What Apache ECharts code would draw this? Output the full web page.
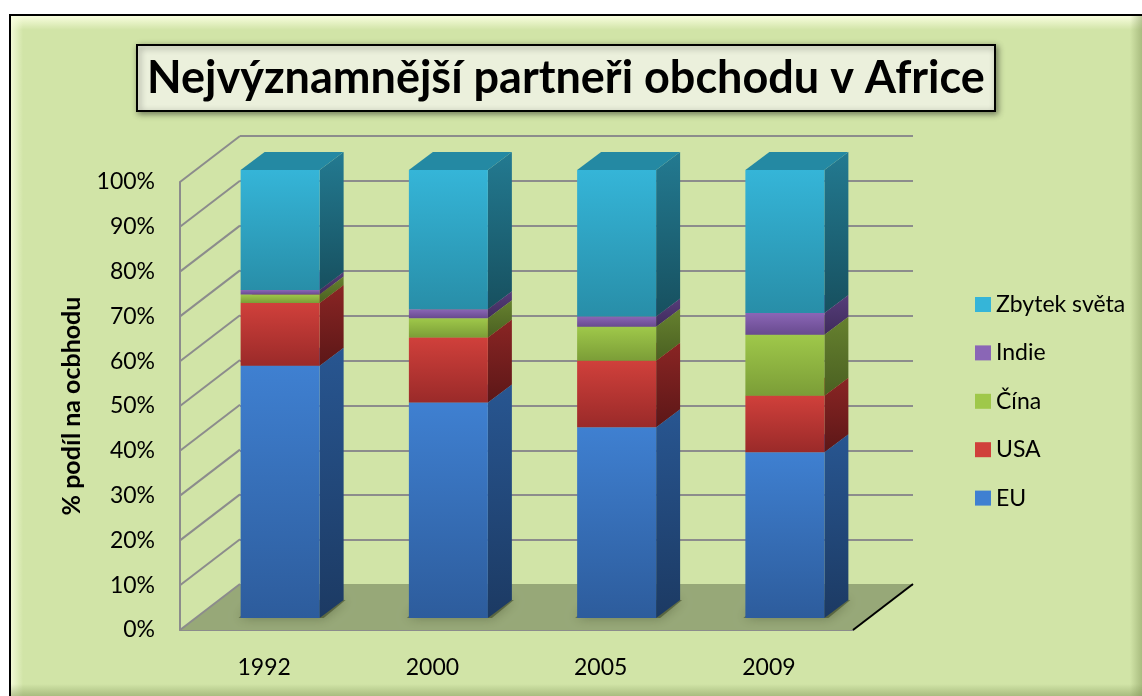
<!DOCTYPE html>
<html>
<head>
<meta charset="utf-8">
<title>Nejvýznamnější partneři obchodu v Africe</title>
<script src="https://cdn.jsdelivr.net/npm/echarts@6/dist/echarts.min.js"></script>
<style>
  html, body { margin: 0; padding: 0; background: #fff; }
  #chart { width: 1142px; height: 696px; }
</style>
</head>
<body>
<div id="chart"></div>
<script>
// data (% of Africa's trade)
const years = ['1992', '2000', '2005', '2009'];
const eu = [56.3, 48.1, 42.6, 37.0];
const usa = [14.0, 14.5, 14.8, 12.6];
const cina = [1.9, 4.3, 7.6, 13.6];
const indie = [1.0, 2.0, 2.3, 4.9];
const zbytek = [26.8, 31.1, 32.7, 31.9];
const yTicks = [0, 10, 20, 30, 40, 50, 60, 70, 80, 90, 100];
const legendOrder = ['Zbytek světa', 'Indie', 'Čína', 'USA', 'EU'];

const FONT = 'Lato, "Open Sans", sans-serif';
const WALL_DX = 60, WALL_DY = -46;   // depth of the floor / side wall
const BAR_FX = 16, BAR_FY = -12;     // front face of bars sits a bit behind the front plane
const BAR_DX = 24, BAR_DY = -18;     // depth of the bars
const BAR_W = 79;

const segs = [
  { name: 'EU', data: eu, front: ['#3f80d1', '#2d5c9c'], side: ['#285691', '#1c3a63'], top: '#3570b8' },
  { name: 'USA', data: usa, front: ['#d0403b', '#9a2a29'], side: ['#8a2524', '#5c1717'], top: '#b33330' },
  { name: 'Čína', data: cina, front: ['#9fc84a', '#7b9d37'], side: ['#66812f', '#4a6021'], top: '#89ad3f' },
  { name: 'Indie', data: indie, front: ['#8a66b6', '#684a8e'], side: ['#563d7a', '#3f2b5c'], top: '#765699' },
  { name: 'Zbytek světa', data: zbytek, front: ['#35b5d8', '#288ea8'], side: ['#237a91', '#17505f'], top: '#2489a3' }
];

function grad(c) {
  return new echarts.graphic.LinearGradient(0, 0, 0, 1, [
    { offset: 0, color: c[0] }, { offset: 1, color: c[1] }
  ]);
}

function barRender(seg, isBottom) {
  return function (params, api) {
    const i = api.value(0);
    const p0 = api.coord([i, api.value(1)]);
    const p1 = api.coord([i, api.value(2)]);
    const xl = p0[0] + BAR_FX - BAR_W / 2, xr = xl + BAR_W;
    const yb = p0[1] + BAR_FY, yt = p1[1] + BAR_FY;
    const children = [];
    if (isBottom) {
      // soft shadow on the floor, mostly hidden behind the bar
      children.push({
        type: 'polygon',
        shape: { points: [[xl - 2, yb], [xr + 4, yb], [xr + BAR_DX + 2, yb + BAR_DY], [xl + BAR_DX - 6, yb + BAR_DY]] },
        style: { fill: 'rgba(50,60,30,0.5)', shadowBlur: 12, shadowColor: 'rgba(50,60,30,0.8)' }
      });
    }
    children.push({
      type: 'polygon',
      shape: { points: [[xr, yb], [xr + BAR_DX, yb + BAR_DY], [xr + BAR_DX, yt + BAR_DY], [xr, yt]] },
      style: { fill: grad(seg.side) }
    });
    children.push({
      type: 'polygon',
      shape: { points: [[xl, yt], [xr, yt], [xr + BAR_DX, yt + BAR_DY], [xl + BAR_DX, yt + BAR_DY]] },
      style: { fill: seg.top }
    });
    children.push({
      type: 'rect',
      shape: { x: xl, y: yt, width: BAR_W, height: yb - yt },
      style: { fill: grad(seg.front) }
    });
    return { type: 'group', children: children };
  };
}

// stack the segments
const base = years.map(() => 0);
const barSeries = segs.map((seg, k) => {
  const rows = seg.data.map((v, i) => {
    const row = [i, base[i], base[i] + v];
    base[i] += v;
    return row;
  });
  return {
    type: 'custom',
    name: seg.name,
    xAxisIndex: 0,
    yAxisIndex: 0,
    z: 5 + k,
    itemStyle: { color: seg.front[0] },
    encode: { x: 0, y: [1, 2] },
    data: rows,
    renderItem: barRender(seg, k === 0)
  };
});

const floorSeries = {
  type: 'custom',
  xAxisIndex: 0,
  yAxisIndex: 0,
  z: 1,
  silent: true,
  data: [[0, 0]],
  renderItem: function (params, api) {
    const band = api.size([1, 0])[0];
    const a = api.coord([0, 0]);
    const b = api.coord([years.length - 1, 0]);
    const xL = a[0] - band / 2, xR = b[0] + band / 2, y0 = a[1];
    return {
      type: 'group',
      children: [
        {
          type: 'polygon',
          shape: { points: [[xL, y0], [xR, y0], [xR + WALL_DX, y0 + WALL_DY], [xL + WALL_DX, y0 + WALL_DY]] },
          style: { fill: '#97a878' }
        },
        {
          type: 'line',
          shape: { x1: xR, y1: y0, x2: xR + WALL_DX, y2: y0 + WALL_DY },
          style: { stroke: '#000', lineWidth: 2 }
        }
      ]
    };
  }
};

const wallSeries = {
  type: 'custom',
  xAxisIndex: 0,
  yAxisIndex: 0,
  z: 2,
  silent: true,
  data: yTicks.map(v => [0, v]),
  renderItem: function (params, api) {
    const band = api.size([1, 0])[0];
    const p = api.coord([0, api.value(1)]);
    const xL = p[0] - band / 2;
    return {
      type: 'line',
      shape: { x1: xL, y1: p[1], x2: xL + WALL_DX, y2: p[1] + WALL_DY },
      style: { stroke: '#8c8c8c', lineWidth: 2 }
    };
  }
};

const chart = echarts.init(document.getElementById('chart'));
chart.setOption({
  animation: false,
  backgroundColor: '#fff',
  graphic: [
    {
      type: 'rect', z: -10,
      shape: { x: 10, y: 15, width: 1140, height: 690 },
      style: { fill: '#d1e4a7', stroke: '#000', lineWidth: 2 }
    },
    {
      type: 'rect', z: -9,
      shape: { x: 11, y: 16, width: 1131, height: 14 },
      style: {
        fill: new echarts.graphic.LinearGradient(0, 0, 0, 1, [
          { offset: 0, color: 'rgba(250,255,225,0.95)' }, { offset: 1, color: 'rgba(250,255,225,0)' }
        ])
      }
    },
    {
      type: 'rect', z: -9,
      shape: { x: 11, y: 16, width: 12, height: 680 },
      style: {
        fill: new echarts.graphic.LinearGradient(0, 0, 1, 0, [
          { offset: 0, color: 'rgba(250,255,225,0.8)' }, { offset: 1, color: 'rgba(250,255,225,0)' }
        ])
      }
    },
    {
      type: 'rect', z: -9,
      shape: { x: 1130, y: 16, width: 12, height: 680 },
      style: {
        fill: new echarts.graphic.LinearGradient(0, 0, 1, 0, [
          { offset: 0, color: 'rgba(120,140,80,0)' }, { offset: 1, color: 'rgba(120,140,80,0.45)' }
        ])
      }
    },
    {
      type: 'rect', z: -9,
      shape: { x: 11, y: 684, width: 1131, height: 12 },
      style: {
        fill: new echarts.graphic.LinearGradient(0, 0, 0, 1, [
          { offset: 0, color: 'rgba(120,140,80,0)' }, { offset: 1, color: 'rgba(120,140,80,0.45)' }
        ])
      }
    }
  ],
  title: {
    text: 'Nejvýznamnější partneři obchodu v Africe',
    left: 137,
    top: 45,
    padding: [9, 10, 9, 10],
    backgroundColor: '#ebf0dc',
    borderColor: '#000',
    borderWidth: 2,
    shadowColor: 'rgba(0,0,0,0.45)',
    shadowBlur: 6,
    shadowOffsetX: 2,
    shadowOffsetY: 2,
    textStyle: { fontFamily: FONT, fontSize: 45, fontWeight: 'bold', color: '#000', lineHeight: 48 }
  },
  legend: {
    orient: 'vertical',
    left: 970,
    top: 288,
    itemWidth: 16,
    itemHeight: 15,
    itemGap: 25.4,
    icon: 'rect',
    data: legendOrder,
    textStyle: { fontFamily: FONT, fontSize: 23, color: '#000', lineHeight: 23 }
  },
  grid: [
    { left: 180, top: 182, width: 673, height: 448 },
    { left: 240, top: 136, width: 673, height: 449 }
  ],
  xAxis: [
    {
      type: 'category',
      gridIndex: 0,
      data: years,
      axisLine: { lineStyle: { color: '#8c8c8c', width: 2 } },
      axisTick: { show: false },
      axisLabel: { fontFamily: FONT, fontSize: 23, color: '#000', margin: 26 }
    },
    {
      type: 'category',
      gridIndex: 1,
      data: years,
      show: false
    }
  ],
  yAxis: [
    {
      type: 'value',
      gridIndex: 0,
      min: 0,
      max: 100,
      interval: 10,
      name: '% podíl na ocbhodu',
      nameLocation: 'middle',
      nameGap: 96,
      nameTextStyle: { fontFamily: FONT, fontSize: 25, fontWeight: 'bold', color: '#000' },
      axisLine: { show: true, lineStyle: { color: '#8c8c8c', width: 2 } },
      axisTick: { show: false },
      splitLine: { show: false },
      axisLabel: { fontFamily: FONT, fontSize: 23, color: '#000', margin: 25, formatter: '{value}%' }
    },
    {
      type: 'value',
      gridIndex: 1,
      min: 0,
      max: 100,
      interval: 10,
      axisLine: { show: false },
      axisTick: { show: false },
      axisLabel: { show: false },
      splitLine: { show: true, lineStyle: { color: '#8c8c8c', width: 2 } }
    }
  ],
  series: [floorSeries, wallSeries].concat(barSeries)
});
</script>
</body>
</html>
